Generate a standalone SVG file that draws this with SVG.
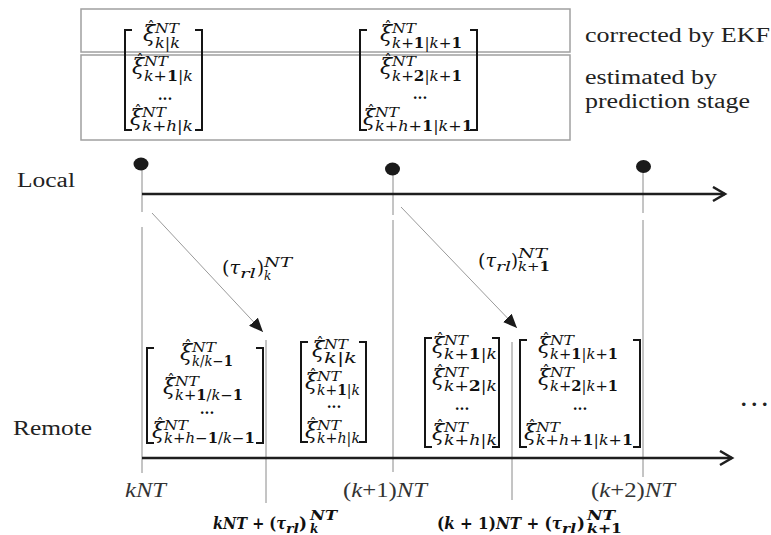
<svg xmlns="http://www.w3.org/2000/svg" width="771" height="535" viewBox="0 0 771 535">
<style>
.box{fill:none;stroke:#a0a0a0;stroke-width:1.5}
.axis{stroke:#1e1e1e;stroke-width:2.5;fill:none}
.vl{stroke:#8a8a8a;stroke-width:1;fill:none}
.diag{stroke:#9a9a9a;stroke-width:1;fill:none}
.br{stroke:#151515;stroke-width:2;fill:none}
.dot{fill:#1a1a1a}
.xi{font-family:'DejaVu Serif',serif;font-style:italic;font-size:22px;fill:#111}
.hat{font-family:'DejaVu Serif',serif;font-size:15px;fill:#111;text-anchor:middle}
.sup{font-family:'DejaVu Serif',serif;font-style:italic;font-size:13px;fill:#111}
.sub{font-family:'DejaVu Serif',serif;font-style:italic;font-size:14px;fill:#111}
.b{font-style:normal;font-weight:bold}
.n{font-style:normal}
.dd{font-family:'DejaVu Serif',serif;font-size:14px;fill:#111;text-anchor:middle;font-weight:bold}
.lbl{font-family:'Liberation Serif',serif;font-size:20px;fill:#222}
.it{font-family:'Liberation Serif',serif;font-style:italic;font-size:21px;fill:#333}
.m{font-family:'DejaVu Serif',serif;font-size:18px;fill:#111}
.ms{font-family:'DejaVu Serif',serif;font-style:italic;font-size:12px;fill:#111}
.mb{font-family:'DejaVu Serif',serif;font-size:17px;font-weight:bold;fill:#111}
.mbs{font-family:'DejaVu Serif',serif;font-size:12px;font-weight:bold;font-style:italic;fill:#111}
</style>
<defs>
<marker id="tri" markerUnits="userSpaceOnUse" markerWidth="16" markerHeight="12" refX="14" refY="6" orient="auto"><path d="M0,0 L14,6 L0,12 z" fill="#1a1a1a"/></marker>
<marker id="chev" markerUnits="userSpaceOnUse" markerWidth="16" markerHeight="18" refX="13" refY="8" orient="auto"><path d="M1,1 L13,8 L1,15" fill="none" stroke="#1e1e1e" stroke-width="2.5"/></marker>
</defs>

<g id="top-box">
<rect class="box" x="81" y="9" width="489" height="43"/>
<rect class="box" x="81" y="55" width="489" height="85"/>
</g>

<g id="top-matrix-k">
<path class="br" d="M132,30 H125 V130 H132"/>
<path class="br" d="M195,30 H202 V130 H195"/>
<g transform="translate(143,41)"><text class="xi">ξ</text><text class="hat" x="8" y="-9">ˆ</text><text class="sup" x="12" y="-8" textLength="24" lengthAdjust="spacingAndGlyphs">NT</text><text class="sub" x="12" y="7" textLength="25" lengthAdjust="spacingAndGlyphs">k<tspan class="n">|</tspan>k</text></g>
<g transform="translate(132,74)"><text class="xi">ξ</text><text class="hat" x="8" y="-9">ˆ</text><text class="sup" x="12" y="-8" textLength="24" lengthAdjust="spacingAndGlyphs">NT</text><text class="sub" x="12" y="7" textLength="49" lengthAdjust="spacingAndGlyphs">k<tspan class="n">+</tspan><tspan class="b">1</tspan><tspan class="n">|</tspan>k</text></g>
<text class="dd" x="165" y="100">...</text>
<g transform="translate(130,125)"><text class="xi">ξ</text><text class="hat" x="8" y="-9">ˆ</text><text class="sup" x="12" y="-8" textLength="24" lengthAdjust="spacingAndGlyphs">NT</text><text class="sub" x="12" y="6" textLength="51" lengthAdjust="spacingAndGlyphs">k<tspan class="n">+</tspan>h<tspan class="n">|</tspan>k</text></g>
</g>

<g id="top-matrix-k1">
<path class="br" d="M367,30 H360 V130 H367"/>
<path class="br" d="M470,30 H477 V130 H470"/>
<g transform="translate(380,41)"><text class="xi">ξ</text><text class="hat" x="8" y="-9">ˆ</text><text class="sup" x="12" y="-8" textLength="24" lengthAdjust="spacingAndGlyphs">NT</text><text class="sub" x="12" y="7" textLength="70" lengthAdjust="spacingAndGlyphs">k<tspan class="n">+</tspan><tspan class="b">1</tspan><tspan class="n">|</tspan>k<tspan class="n">+</tspan><tspan class="b">1</tspan></text></g>
<g transform="translate(380,74)"><text class="xi">ξ</text><text class="hat" x="8" y="-9">ˆ</text><text class="sup" x="12" y="-8" textLength="24" lengthAdjust="spacingAndGlyphs">NT</text><text class="sub" x="12" y="7" textLength="70" lengthAdjust="spacingAndGlyphs">k<tspan class="n">+</tspan><tspan class="b">2</tspan><tspan class="n">|</tspan>k<tspan class="n">+</tspan><tspan class="b">1</tspan></text></g>
<text class="dd" x="420" y="99">...</text>
<g transform="translate(363,125)"><text class="xi">ξ</text><text class="hat" x="8" y="-9">ˆ</text><text class="sup" x="12" y="-8" textLength="24" lengthAdjust="spacingAndGlyphs">NT</text><text class="sub" x="12" y="6" textLength="98" lengthAdjust="spacingAndGlyphs">k<tspan class="n">+</tspan>h<tspan class="n">+</tspan><tspan class="b">1</tspan><tspan class="n">|</tspan>k<tspan class="n">+</tspan><tspan class="b">1</tspan></text></g>
</g>

<g id="legend">
<text class="lbl" x="585" y="42" textLength="185" lengthAdjust="spacingAndGlyphs">corrected by EKF</text>
<text class="lbl" x="585" y="84" textLength="132" lengthAdjust="spacingAndGlyphs">estimated by</text>
<text class="lbl" x="585" y="108" textLength="165" lengthAdjust="spacingAndGlyphs">prediction stage</text>
</g>

<g id="local-timeline">
<text class="lbl" x="17" y="187" textLength="58" lengthAdjust="spacingAndGlyphs">Local</text>
<path class="vl" d="M142,164 V212 M142,227 V473"/>
<path class="vl" d="M393,169 V215 M393,220 V472"/>
<path class="vl" d="M643,166 V213 M643,220 V477"/>
<line class="axis" x1="142" y1="194" x2="725" y2="194" marker-end="url(#chev)"/>
<ellipse class="dot" cx="141" cy="164" rx="7.5" ry="6.5"/>
<ellipse class="dot" cx="392.5" cy="169" rx="7.5" ry="6.5"/>
<ellipse class="dot" cx="643.5" cy="166.5" rx="7.5" ry="6.5"/>
</g>

<g id="connectors">
<line class="diag" x1="152" y1="213" x2="263" y2="332" marker-end="url(#tri)"/>
<line class="diag" x1="401" y1="207" x2="517" y2="328" marker-end="url(#tri)"/>
</g>

<g id="delay-k">
<text class="m" x="222" y="274" textLength="18" lengthAdjust="spacingAndGlyphs">(<tspan font-style="italic">τ</tspan></text>
<text class="ms" x="240" y="278" textLength="16" lengthAdjust="spacingAndGlyphs">rl</text>
<text class="m" x="257" y="274">)</text>
<text class="ms" x="264" y="267" textLength="28" lengthAdjust="spacingAndGlyphs">NT</text>
<text class="ms" x="264" y="280">k</text>
</g>

<g id="delay-k1">
<text class="m" x="478" y="267" textLength="18" lengthAdjust="spacingAndGlyphs">(<tspan font-style="italic">τ</tspan></text>
<text class="ms" x="496" y="271" textLength="15" lengthAdjust="spacingAndGlyphs">rl</text>
<text class="m" x="511" y="267">)</text>
<text class="ms" x="518" y="258" textLength="29" lengthAdjust="spacingAndGlyphs">NT</text>
<text class="ms" x="518" y="271" textLength="32" lengthAdjust="spacingAndGlyphs">k<tspan class="n">+</tspan><tspan class="b">1</tspan></text>
</g>

<g id="remote-timeline">
<text class="lbl" x="13" y="435" textLength="79" lengthAdjust="spacingAndGlyphs">Remote</text>
<path class="vl" d="M266,340 V503"/>
<path class="vl" d="M512,342 V500"/>
<line class="axis" x1="142" y1="458" x2="732" y2="458" marker-end="url(#chev)"/>
<text font-family="'Liberation Serif', serif" font-size="30" fill="#222" x="740" y="406" letter-spacing="3">...</text>
</g>

<g id="remote-matrix-1">
<path class="br" d="M154,348 H147 V443 H154"/>
<path class="br" d="M256,348 H263 V443 H256"/>
<g transform="translate(180,360)"><text class="xi">ξ</text><text class="hat" x="8" y="-9">ˆ</text><text class="sup" x="12" y="-8" textLength="24" lengthAdjust="spacingAndGlyphs">NT</text><text class="sub" x="12" y="6" textLength="41" lengthAdjust="spacingAndGlyphs">k<tspan class="n">/</tspan>k<tspan class="n">−</tspan><tspan class="b">1</tspan></text></g>
<g transform="translate(163,394)"><text class="xi">ξ</text><text class="hat" x="8" y="-9">ˆ</text><text class="sup" x="12" y="-8" textLength="24" lengthAdjust="spacingAndGlyphs">NT</text><text class="sub" x="12" y="6" textLength="68" lengthAdjust="spacingAndGlyphs">k<tspan class="n">+</tspan><tspan class="b">1</tspan><tspan class="n">/</tspan>k<tspan class="n">−</tspan><tspan class="b">1</tspan></text></g>
<text class="dd" x="207" y="414">...</text>
<g transform="translate(152,438)"><text class="xi">ξ</text><text class="hat" x="8" y="-9">ˆ</text><text class="sup" x="12" y="-8" textLength="24" lengthAdjust="spacingAndGlyphs">NT</text><text class="sub" x="12" y="5" textLength="91" lengthAdjust="spacingAndGlyphs">k<tspan class="n">+</tspan>h<tspan class="n">−</tspan><tspan class="b">1</tspan><tspan class="n">/</tspan>k<tspan class="n">−</tspan><tspan class="b">1</tspan></text></g>
</g>

<g id="remote-matrix-2">
<path class="br" d="M308,342 H301 V442 H308"/>
<path class="br" d="M359,342 H366 V442 H359"/>
<g transform="translate(312,357)"><text class="xi">ξ</text><text class="hat" x="8" y="-9">ˆ</text><text class="sup" x="12" y="-8" textLength="24" lengthAdjust="spacingAndGlyphs">NT</text><text class="sub" x="12" y="6" textLength="33" lengthAdjust="spacingAndGlyphs">k<tspan class="n">|</tspan>k</text></g>
<g transform="translate(305,389)"><text class="xi">ξ</text><text class="hat" x="8" y="-9">ˆ</text><text class="sup" x="12" y="-8" textLength="24" lengthAdjust="spacingAndGlyphs">NT</text><text class="sub" x="12" y="6" textLength="43" lengthAdjust="spacingAndGlyphs">k<tspan class="n">+</tspan><tspan class="b">1</tspan><tspan class="n">|</tspan>k</text></g>
<text class="dd" x="334" y="408">...</text>
<g transform="translate(305,438)"><text class="xi">ξ</text><text class="hat" x="8" y="-9">ˆ</text><text class="sup" x="12" y="-8" textLength="24" lengthAdjust="spacingAndGlyphs">NT</text><text class="sub" x="12" y="5" textLength="43" lengthAdjust="spacingAndGlyphs">k<tspan class="n">+</tspan>h<tspan class="n">|</tspan>k</text></g>
</g>

<g id="remote-matrix-3">
<path class="br" d="M432,338 H425 V447 H432"/>
<path class="br" d="M492,338 H499 V447 H492"/>
<g transform="translate(432,353)"><text class="xi">ξ</text><text class="hat" x="8" y="-9">ˆ</text><text class="sup" x="12" y="-8" textLength="24" lengthAdjust="spacingAndGlyphs">NT</text><text class="sub" x="12" y="6" textLength="53" lengthAdjust="spacingAndGlyphs">k<tspan class="n">+</tspan><tspan class="b">1</tspan><tspan class="n">|</tspan>k</text></g>
<g transform="translate(432,385)"><text class="xi">ξ</text><text class="hat" x="8" y="-9">ˆ</text><text class="sup" x="12" y="-8" textLength="24" lengthAdjust="spacingAndGlyphs">NT</text><text class="sub" x="12" y="6" textLength="53" lengthAdjust="spacingAndGlyphs">k<tspan class="n">+</tspan><tspan class="b">2</tspan><tspan class="n">|</tspan>k</text></g>
<text class="dd" x="462" y="410">...</text>
<g transform="translate(432,440)"><text class="xi">ξ</text><text class="hat" x="8" y="-9">ˆ</text><text class="sup" x="12" y="-8" textLength="24" lengthAdjust="spacingAndGlyphs">NT</text><text class="sub" x="12" y="5" textLength="53" lengthAdjust="spacingAndGlyphs">k<tspan class="n">+</tspan>h<tspan class="n">|</tspan>k</text></g>
</g>

<g id="remote-matrix-4">
<path class="br" d="M527,340 H520 V447 H527"/>
<path class="br" d="M633,340 H640 V447 H633"/>
<g transform="translate(538,353)"><text class="xi">ξ</text><text class="hat" x="8" y="-9">ˆ</text><text class="sup" x="12" y="-8" textLength="24" lengthAdjust="spacingAndGlyphs">NT</text><text class="sub" x="12" y="6" textLength="68" lengthAdjust="spacingAndGlyphs">k<tspan class="n">+</tspan><tspan class="b">1</tspan><tspan class="n">|</tspan>k<tspan class="n">+</tspan><tspan class="b">1</tspan></text></g>
<g transform="translate(538,385)"><text class="xi">ξ</text><text class="hat" x="8" y="-9">ˆ</text><text class="sup" x="12" y="-8" textLength="24" lengthAdjust="spacingAndGlyphs">NT</text><text class="sub" x="12" y="6" textLength="68" lengthAdjust="spacingAndGlyphs">k<tspan class="n">+</tspan><tspan class="b">2</tspan><tspan class="n">|</tspan>k<tspan class="n">+</tspan><tspan class="b">1</tspan></text></g>
<text class="dd" x="580" y="410">...</text>
<g transform="translate(524,440)"><text class="xi">ξ</text><text class="hat" x="8" y="-9">ˆ</text><text class="sup" x="12" y="-8" textLength="24" lengthAdjust="spacingAndGlyphs">NT</text><text class="sub" x="12" y="5" textLength="97" lengthAdjust="spacingAndGlyphs">k<tspan class="n">+</tspan>h<tspan class="n">+</tspan><tspan class="b">1</tspan><tspan class="n">|</tspan>k<tspan class="n">+</tspan><tspan class="b">1</tspan></text></g>
</g>

<g id="time-labels">
<text class="it" x="125" y="497" textLength="41" lengthAdjust="spacingAndGlyphs">kNT</text>
<text class="it" x="343" y="497" textLength="84" lengthAdjust="spacingAndGlyphs"><tspan font-style="normal">(</tspan>k<tspan font-style="normal">+1)</tspan>NT</text>
<text class="it" x="591" y="497" textLength="84" lengthAdjust="spacingAndGlyphs"><tspan font-style="normal">(</tspan>k<tspan font-style="normal">+2)</tspan>NT</text>
</g>

<g id="arrival-labels">
<text class="mb" x="213" y="529" textLength="73" lengthAdjust="spacingAndGlyphs"><tspan font-style="italic">kNT</tspan> + (<tspan font-style="italic">τ</tspan></text>
<text class="mbs" x="286" y="533" textLength="13" lengthAdjust="spacingAndGlyphs">rl</text>
<text class="mb" x="299" y="529">)</text>
<text class="mbs" x="310" y="520" textLength="27" lengthAdjust="spacingAndGlyphs">NT</text>
<text class="mbs" x="310" y="533">k</text>
<text class="mb" x="437" y="529" textLength="125" lengthAdjust="spacingAndGlyphs">(<tspan font-style="italic">k</tspan> + 1)<tspan font-style="italic">NT</tspan> + (<tspan font-style="italic">τ</tspan></text>
<text class="mbs" x="562" y="533" textLength="14" lengthAdjust="spacingAndGlyphs">rl</text>
<text class="mb" x="577" y="529">)</text>
<text class="mbs" x="587" y="520" textLength="28" lengthAdjust="spacingAndGlyphs">NT</text>
<text class="mbs" x="587" y="533" textLength="35" lengthAdjust="spacingAndGlyphs">k<tspan font-style="normal">+1</tspan></text>
</g>
</svg>
